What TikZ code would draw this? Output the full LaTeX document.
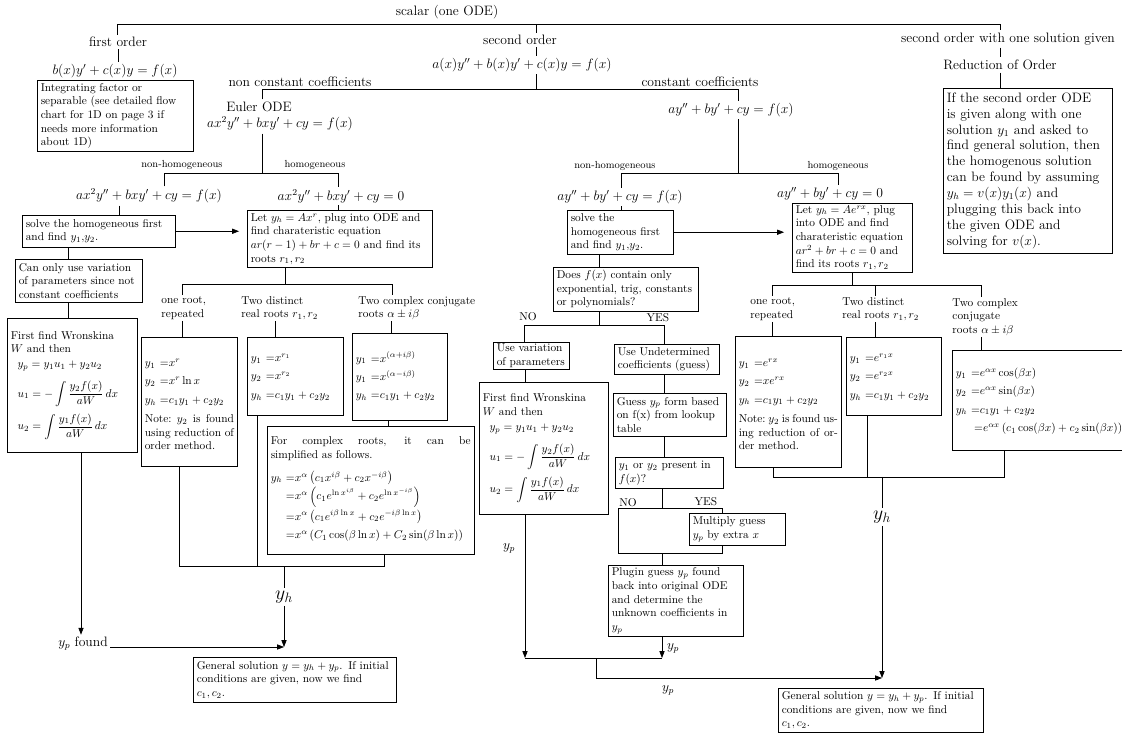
\documentclass[tikz,border=0pt]{standalone}
\usetikzlibrary{arrows.meta}
\newcommand{\jline}[1]{\makebox[\hsize][s]{\spaceskip=.3333em plus 1fil minus .15em\xspaceskip=\spaceskip\relax #1}}
\newcommand{\eqs}[1]{{\renewcommand{\arraystretch}{1.35}$\begin{array}{@{}l@{}l@{}}#1\end{array}$}}
\newcommand{\wronsk}{First find Wronskina\\ $W$ and then\\[1pt]
\hspace*{6pt}$y_p =y_1u_1+y_2u_2$\\[8pt]
\hspace*{6pt}$u_1=-\displaystyle\int\frac{y_2f(x)}{aW}\,dx$\\[5pt]
\hspace*{6pt}$u_2=\displaystyle\int\frac{y_1f(x)}{aW}\,dx$}
\tikzset{
  lbl/.style={font=\large, inner sep=2pt},
  sml/.style={font=\small, inner sep=2pt},
  big/.style={font=\LARGE, inner sep=2pt},
  tag/.style={inner sep=1pt},
  brn/.style={anchor=west, align=left, inner sep=1pt},
  blk/.style 2 args={draw, anchor=north west, align=left, inner xsep=3pt, inner ysep=1.5pt, text width=#1, minimum height=#2},
}
\begin{document}
\begin{tikzpicture}[x=0.88pt,y=-0.88pt,line width=0.6pt,>={Triangle[length=6pt,width=4.5pt]}]
\useasboundingbox (0,0) rectangle (1122,733);
\node[lbl] (scalar) at (447,12) {scalar (one ODE)};
\node[lbl] (first) at (118,42) {first order};
\node[lbl] (firsteq) at (115,71) {$b(x)y'+c(x)y=f(x)$};
\node[blk={131pt}{62.5pt}] (intbox) at (37,80) {Integrating factor or\\ separable (see detailed flow\\ chart for 1D on page 3 if\\ needs more information\\ about 1D)};
\node[lbl] (second) at (520,40) {second order};
\node[lbl] (secondeq) at (522,65) {$a(x)y''+b(x)y'+c(x)y=f(x)$};
\node[lbl] (second1) at (1008,39) {second order with one solution given};
\node[lbl] (redord) at (1000,65) {Reduction of Order};
\node[blk={143pt}{145pt}, font=\large] (redbox) at (943,88) {If the second order ODE\\ is given along with one\\ solution $y_1$ and asked to\\ find general solution, then\\ the homogenous solution\\ can be found by assuming\\ $y_h=v(x)y_1(x)$ and\\ plugging this back into\\ the given ODE and\\ solving for $v(x)$.};
\node[lbl] (nonconst) at (300,82) {non constant coefficients};
\node[lbl] (const) at (700,82) {constant coefficients};
\node[lbl] (euler) at (259,107) {Euler ODE};
\node[lbl] (eulereq) at (280,124) {$ax^2y''+bxy'+cy=f(x)$};
\node[lbl] (consteq) at (731,110) {$ay''+by'+cy=f(x)$};
\coordinate (topL) at (117,24);
\coordinate (topM) at (536,24);
\coordinate (topR) at (1000,24);
\draw (topL |- first.north) -- (topL) -- (topR) -- (topR |- second1.north);
\draw (topM) -- (topM |- second.north);
\draw (first.south) -- (first.south |- firsteq.north);
\draw (topM |- second.south) -- (topM |- secondeq.north);
\draw (topR |- second1.south) -- (topR |- redord.north);
\draw (topR |- redord.south) -- (topR |- redbox.north);
\coordinate (midM) at (536,89);
\coordinate (midL) at (262,89);
\coordinate (midR) at (738,89);
\draw (topM |- secondeq.south) -- (midM);
\draw (midL |- euler.north) -- (midL) -- (midR) -- (midR |- consteq.north);
% Euler ODE
\node[sml] (nh1) at (182,165) {non-homogeneous};
\node[sml] (h1) at (315,165) {homogeneous};
\node[lbl] (eulnh) at (149,196) {$ax^2y''+bxy'+cy=f(x)$};
\node[lbl] (eulh) at (341,196) {$ax^2y''+bxy'+cy=0$};
\node[blk={129pt}{28pt}] (solve1) at (22,215) {solve the homogeneous first\\ and find $y_1$,$y_2$.};
\node[blk={157pt}{50pt}] (euhbox) at (247,210) {Let $y_h=Ax^r$, plug into ODE and\\ find charateristic equation\\ $ar(r-1)+br+c=0$ and find its\\ roots $r_1,r_2$};
\node[blk={106pt}{38pt}] (cantonly) at (15,259) {Can only use variation\\ of parameters since not\\ constant coefficients};
\node[blk={108pt}{118pt}] (wron1) at (7,318) {\wronsk};
\coordinate (ebM) at (262,173);
\coordinate (ebL) at (164,173);
\coordinate (ebR) at (338,173);
\draw (midL |- eulereq.south) -- (ebM);
\draw (ebL |- eulnh.north) -- (ebL) -- (ebR) -- (ebR |- eulh.north);
\draw (ebR |- eulh.south) -- (ebR |- euhbox.north);
\draw (119,0 |- eulnh.south) -- (119,0 |- solve1.north);
\draw[->,shorten >=7pt] (solve1.east) -- (solve1.east -| euhbox.west);
\draw (68,0 |- solve1.south) -- (68,0 |- cantonly.north);
\draw (68,0 |- cantonly.south) -- (68,0 |- wron1.north);
\node[brn] (eroot1) at (160,308) {one root,\\ repeated};
\node[brn] (eroot2) at (240,308) {Two distinct\\ real roots $r_1,r_2$};
\node[brn] (eroot3) at (357,308) {Two complex conjugate\\ roots $\alpha\pm i\beta$};
\node[blk={78.5pt}{113.5pt}] (er1) at (141,337) {\eqs{y_1\ &{=}x^{r}\\ y_2\ &{=}x^{r}\ln x\\ y_h\ &{=}c_1y_1+c_2y_2}\\[4pt]
  \jline{Note: $y_2$ is found}\\ \jline{using reduction of}\\ order method.};
\node[blk={78.5pt}{68.5pt}] (er2) at (247,337) {\eqs{y_1\ &{=}x^{r_1}\\ y_2\ &{=}x^{r_2}\\ y_h\ &{=}c_1y_1+c_2y_2}};
\node[blk={77.5pt}{76.5pt}] (er3) at (352,333) {\eqs{y_1\ &{=}x^{(\alpha+i\beta)}\\ y_1\ &{=}x^{(\alpha-i\beta)}\\ y_h\ &{=}c_1y_1+c_2y_2}};
\node[blk={176pt}{112.5pt}] (ercx) at (267,426) {\jline{For complex roots, it can be}\\ simplified as follows.\\[6pt]
  \eqs{y_h\ &{=}x^{\alpha}\left(c_1x^{i\beta}+c_2x^{-i\beta}\right)\\ &{=}x^{\alpha}\left(c_1e^{\ln x^{i\beta}}+c_2e^{\ln x^{-i\beta}}\right)\\ &{=}x^{\alpha}\left(c_1e^{i\beta\ln x}+c_2e^{-i\beta\ln x}\right)\\ &{=}x^{\alpha}\left(C_1\cos(\beta\ln x)+C_2\sin(\beta\ln x)\right)}};
\coordinate (rbJ) at (285,284);
\coordinate (rbL) at (182,284);
\coordinate (rbR) at (392,284);
\draw (rbJ |- euhbox.south) -- (rbJ);
\draw (rbL |- eroot1.north) -- (rbL) -- (rbR) -- (rbR |- eroot3.north);
\draw (182,0 |- eroot1.south) -- (182,0 |- er1.north);
\draw (275,0 |- eroot2.south) -- (275,0 |- er2.north);
\draw (391,0 |- eroot3.south) -- (391,0 |- er3.north);
\draw (388,0 |- er3.south) -- (388,0 |- ercx.north);
\coordinate (ecL) at (179,566);
\coordinate (ecM) at (284,566);
\coordinate (ecR) at (384,566);
\draw (ecL |- er1.south) -- (ecL) -- (ecR) -- (ecR |- ercx.south);
\draw (257,0 |- er2.south) -- (257,566);
\node[big] (yh1) at (284,597) {$y_h$};
\coordinate (g1) at (284,647);
\draw (ecM) -- (yh1.north);
\draw[->] (yh1.south) -- (g1);
\node[lbl] (ypfound) at (83,644) {$y_p$ found};
\draw[->] (81,0 |- wron1.south) -- (81,0 |- ypfound.north);
\draw[->] (ypfound.east |- g1) -- (g1);
\node[blk={172.6pt}{39.5pt}] (gen1) at (193,657) {General solution $y=y_h+y_p$. If initial\\ conditions are given, now we find\\ $c_1,c_2$.};
% constant coefficients
\node[sml] (nh2) at (615,166) {non-homogeneous};
\node[sml] (h2) at (838,166) {homogeneous};
\node[lbl] (cnh) at (620,197) {$ay''+by'+cy=f(x)$};
\node[lbl] (ch) at (830,194) {$ay''+by'+cy=0$};
\node[blk={87pt}{38.5pt}] (solve2) at (567,210) {solve the\\ homogeneous first\\ and find $y_1$,$y_2$.};
\node[blk={100pt}{60.5pt}] (chbox) at (792,203) {Let $y_h=Ae^{rx}$, plug\\ into ODE and find\\ charateristic equation\\ $ar^2+br+c=0$ and\\ find its roots $r_1,r_2$};
\coordinate (cbM) at (738,173);
\coordinate (cbL) at (621,173);
\coordinate (cbR) at (838,173);
\draw (midR |- consteq.south) -- (cbM);
\draw (cbL |- cnh.north) -- (cbL) -- (cbR) -- (cbR |- ch.north);
\draw (cbL |- cnh.south) -- (cbL |- solve2.north);
\draw[->,shorten >=7pt] (solve2.east) -- (solve2.east -| chbox.west);
\node[brn] (croot1) at (749,309) {one root,\\ repeated};
\node[brn] (croot2) at (841,309) {Two distinct\\ real roots $r_1,r_2$};
\node[brn] (croot3) at (951,317) {Two complex\\ conjugate\\ roots $\alpha\pm i\beta$};
\node[blk={87.3pt}{115pt}] (ecr1) at (735,336) {\eqs{y_1\ &{=}e^{rx}\\ y_2\ &{=}xe^{rx}\\ y_h\ &{=}c_1y_1+c_2y_2}\\[4pt]
  \jline{Note: $y_2$ is found us-}\\ \jline{ing reduction of or-}\\ der method.};
\node[blk={77.6pt}{68.5pt}] (ecr2) at (846,337) {\eqs{y_1\ &{=}e^{r_1x}\\ y_2\ &{=}e^{r_2x}\\ y_h\ &{=}c_1y_1+c_2y_2}};
\node[blk={148pt}{88pt}] (ecr3) at (952,350) {\eqs{y_1\ &{=}e^{\alpha x}\cos(\beta x)\\ y_2\ &{=}e^{\alpha x}\sin(\beta x)\\ y_h\ &{=}c_1y_1+c_2y_2\\ &\;{=}e^{\alpha x}\left(c_1\cos(\beta x)+c_2\sin(\beta x)\right)}};
\coordinate (crJ) at (852,285);
\coordinate (crL) at (772,285);
\coordinate (crM) at (875,285);
\coordinate (crR) at (981,285);
\draw (crJ |- chbox.south) -- (crJ);
\draw (crL |- croot1.north) -- (crL) -- (crR) -- (crR |- croot3.north);
\draw (crM) -- (crM |- croot2.north);
\draw (772,0 |- croot1.south) -- (772,0 |- ecr1.north);
\draw (875,0 |- croot2.south) -- (875,0 |- ecr2.north);
\draw (981,0 |- croot3.south) -- (981,0 |- ecr3.north);
\coordinate (ccL) at (773,477);
\coordinate (ccM) at (882,477);
\coordinate (ccR) at (1004,477);
\draw (ccL |- ecr1.south) -- (ccL) -- (ccR) -- (ccR |- ecr3.south);
\draw (867,0 |- ecr2.south) -- (867,477);
\node[big] (yh2) at (882,517) {$y_h$};
\coordinate (g2) at (882,678);
\draw (ccM) -- (yh2.north);
\draw[->] (yh2.south) -- (g2);
\node[blk={174pt}{38.5pt}] (gen2) at (778,688) {General solution $y=y_h+y_p$. If initial\\ conditions are given, now we find\\ $c_1,c_2$.};
% particular solution
\node[blk={121.5pt}{38.5pt}] (does) at (553,267) {Does $f(x)$ contain only\\ exponential, trig, constants\\ or polynomials?};
\node[tag] (no1) at (528,317) {NO};
\node[tag] (yes1) at (658,318) {YES};
\node[blk={61pt}{24pt}] (usevar) at (493,342) {Use variation\\ of parameters};
\node[blk={86pt}{26.5pt}] (useund) at (614,344) {Use Undetermined\\ coefficients (guess)};
\node[blk={107.5pt}{116pt}] (wron2) at (479,382) {\wronsk};
\node[blk={93pt}{38pt}] (guess) at (613,393) {Guess $y_p$ form based\\ on f(x) from lookup\\ table};
\node[blk={89pt}{27.5pt}] (present) at (615,457) {$y_1$ or $y_2$ present in\\ $f(x)$?};
\node[tag] (no2) at (628,503) {NO};
\node[tag] (yes2) at (706,502) {YES};
\node[blk={78.5pt}{28pt}] (multiply) at (689,513) {Multiply guess\\ $y_p$ by extra $x$};
\node[blk={113pt}{62.5pt}] (plugin) at (608,565) {Plugin guess $y_p$ found\\ back into original ODE\\ and determine the\\ unknown coefficients in\\ $y_p$};
\draw (599,0 |- solve2.south) -- (599,0 |- does.north);
\coordinate (nyJ) at (599,325);
\coordinate (nyL) at (524,325);
\coordinate (nyR) at (664,325);
\draw (nyJ |- does.south) -- (nyJ);
\draw (nyL |- usevar.north) -- (nyL) -- (nyR) -- (nyR |- useund.north);
\draw (525,0 |- usevar.south) -- (525,0 |- wron2.north);
\draw (664,0 |- useund.south) -- (664,0 |- guess.north);
\draw (664,0 |- guess.south) -- (664,0 |- present.north);
\coordinate (pjT) at (662,508);
\coordinate (pjL) at (618,508);
\coordinate (pjR) at (722,508);
\coordinate (pbL) at (618,553);
\coordinate (pbM) at (662,553);
\coordinate (pbR) at (722,553);
\draw (pjT |- present.south) -- (pjT);
\draw (pjR |- multiply.north) -- (pjR) -- (pjL) -- (pbL) -- (pbR) -- (pbR |- multiply.south);
\draw (pbM) -- (pbM |- plugin.north);
\coordinate (ypL) at (525,658);
\coordinate (ypJ) at (596,658);
\coordinate (ypR) at (662,658);
\draw[->] (ypL |- wron2.south) -- (ypL);
\draw[->] (ypR |- plugin.south) -- (ypR);
\draw (ypL) -- (ypR);
\draw[->] (ypJ) |- (g2);
\node[lbl] (ypl) at (509,548) {$y_p$};
\node[lbl] (ypr) at (673,648) {$y_p$};
\node[lbl] (ypb) at (668,690) {$y_p$};
\end{tikzpicture}
\end{document}
